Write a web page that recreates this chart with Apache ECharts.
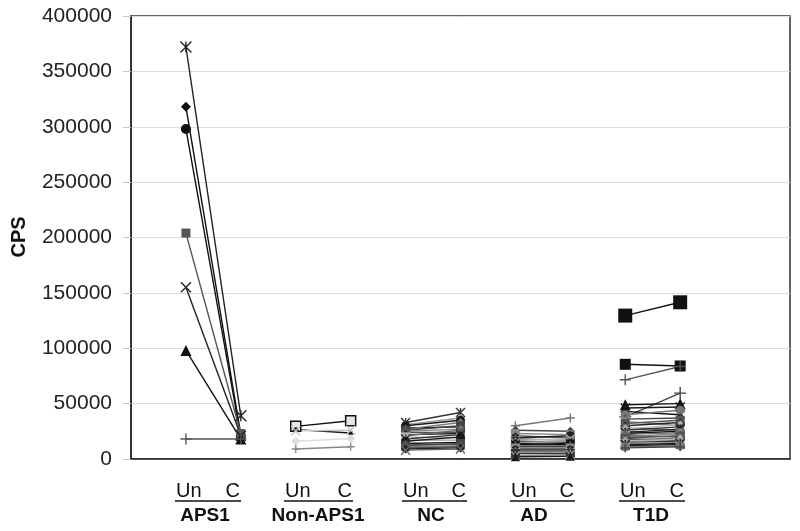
<!DOCTYPE html>
<html>
<head>
<meta charset="utf-8">
<script src="https://cdn.jsdelivr.net/npm/echarts@6/dist/echarts.min.js"></script>
<style>html,body{margin:0;padding:0;background:#fff}#c{width:800px;height:531px}</style>
</head>
<body>
<div id="c"></div>
<script>
// ---- data ----
const groupNames = ['APS1', 'Non-APS1', 'NC', 'AD', 'T1D'];
const pairLabels = ['Un', 'C'];
const yTicks = [0, 50000, 100000, 150000, 200000, 250000, 300000, 350000, 400000];

const aps1Un = [372000, 318000, 298000, 204000, 155000, 98000, 18000];
const aps1C  = [39000, 22000, 20000, 23000, 21000, 18000, 18000];

const nonUn = [29500, 26500, 25500, 16000, 9000];
const nonC  = [34500, 23500, 26000, 18500, 11000];

const ncUn = [33000, 31000, 30000, 28000, 27000, 26000, 25000, 24000, 22000, 21000, 20000, 18000, 17000, 16000, 14000, 13000, 12000, 11000, 10000, 9000, 8000];
const ncC  = [42000, 37000, 35000, 29000, 33000, 30000, 27000, 24000, 23000, 26000, 19000, 22000, 17000, 20000, 15000, 13000, 14000, 12000, 11000, 10000, 9000];

const adUn = [30000, 26000, 23000, 21000, 19000, 18000, 17000, 16000, 15000, 14000, 13000, 12000, 11000, 10000, 9000, 8000, 7000, 6000, 5000, 3000, 2000];
const adC  = [37000, 25000, 22000, 19000, 21000, 17000, 18000, 15000, 16000, 13000, 14000, 12000, 11000, 10000, 9000, 8000, 7000, 6000, 5000, 4000, 2500];

const t1dUn = [129500, 85500, 71500, 38000, 49000, 46000, 43000, 40000, 36000, 34000, 32000, 30000, 28000, 27000, 26000, 25000, 24000, 23000, 22000, 21000, 20000, 19000, 18000, 17000, 16000, 15000, 14000, 13000, 12000, 11000, 10000];
const t1dC  = [141500, 84000, 83500, 59500, 50000, 47000, 40000, 44000, 37000, 30000, 35000, 33000, 26000, 31000, 29000, 22000, 27000, 25000, 24000, 20000, 23000, 21000, 17000, 19000, 18000, 16000, 15000, 14000, 13000, 12000, 11000];

// ---- styles ----
const SYM = {
  rect: 'rect', triangle: 'triangle', circle: 'circle', diamond: 'diamond',
  cross: 'path://M0,0L10,10M0,10L10,0',
  plus: 'path://M5,0L5,10M0,5L10,5',
  star: 'path://M0,0L10,10M0,10L10,0M5,0L5,10'
};
const stroked = { cross: true, plus: true, star: true };

const aps1Styles = [
  { s: 'star', c: '#222', size: 11 }, { s: 'diamond', c: '#111', size: 10 }, { s: 'circle', c: '#111', size: 10 },
  { s: 'rect', c: '#555', size: 9 }, { s: 'cross', c: '#222', size: 10 }, { s: 'triangle', c: '#111', size: 11 },
  { s: 'plus', c: '#555', size: 11 }
];
const nonStyles = [
  { s: 'rect', c: '#111', fill: '#e6e6e6', size: 10 }, { s: 'circle', c: '#111', size: 5 },
  { s: 'cross', c: '#c8c8c8', size: 9 }, { s: 'diamond', c: '#dddddd', size: 9 }, { s: 'plus', c: '#888', size: 8 }
];
const t1dSpecial = [
  { s: 'rect', c: '#111', size: 14 }, { s: 'rect', c: '#111', size: 11 }, { s: 'plus', c: '#555', size: 11 },
  { s: 'plus', c: '#444', size: 12 }, { s: 'triangle', c: '#111', size: 11 }
];
const palette = ['#111111', '#555555', '#333333', '#777777', '#222222', '#999999', '#444444', '#666666', '#1a1a1a', '#888888', '#b5b5b5'];
const shapes = ['rect', 'triangle', 'circle', 'diamond', 'cross', 'rect', 'star', 'triangle', 'circle', 'plus', 'diamond'];

const series = [];
function addGroup(g, un, c, special) {
  for (let i = 0; i < un.length; i++) {
    const st = (special && special[i]) || { s: shapes[(i + g * 3) % shapes.length], c: palette[(i * 3 + g) % palette.length], size: 9 };
    const isStroke = stroked[st.s];
    series.push({
      type: 'line',
      data: [[2 * g + 1, un[i]], [2 * g + 2, c[i]]],
      symbol: SYM[st.s],
      symbolSize: st.size,
      clip: false,
      silent: true,
      animation: false,
      lineStyle: { color: st.c, width: 1.4 },
      itemStyle: isStroke
        ? { color: 'rgba(0,0,0,0)', borderColor: st.c, borderWidth: 1.4 }
        : { color: st.fill || st.c, borderColor: st.c, borderWidth: st.fill ? 1.5 : 0 }
    });
  }
}
addGroup(0, aps1Un, aps1C, aps1Styles);
addGroup(1, nonUn, nonC, nonStyles);
addGroup(2, ncUn, ncC, null);
addGroup(3, adUn, adC, null);
addGroup(4, t1dUn, t1dC, t1dSpecial);

// ---- bottom labels (layout) ----
const labelLayout = [
  { unX: 176, cX: 240, mid: 205 },
  { unX: 285, cX: 352, mid: 318 },
  { unX: 403, cX: 466, mid: 431 },
  { unX: 511, cX: 574, mid: 534 },
  { unX: 620, cX: 684, mid: 651 }
];
const FONT = '"Liberation Sans", Arial, sans-serif';
const graphics = [];
labelLayout.forEach((L, g) => {
  graphics.push({ type: 'text', left: L.unX, top: 481, style: { text: pairLabels[0], font: '20px ' + FONT, fill: '#111' } });
  graphics.push({ type: 'text', right: 800 - L.cX, top: 481, style: { text: pairLabels[1], font: '20px ' + FONT, fill: '#111' } });
  graphics.push({ type: 'line', shape: { x1: L.unX - 1, y1: 501, x2: L.cX + 1, y2: 501 }, style: { stroke: '#111', lineWidth: 1.5 } });
  graphics.push({ type: 'text', x: L.mid, y: 516, style: { text: groupNames[g], font: 'bold 19px ' + FONT, fill: '#111', align: 'center', verticalAlign: 'middle' } });
});
graphics.push({ type: 'text', x: 19, y: 237, rotation: Math.PI / 2, style: { text: 'CPS', font: 'bold 20px ' + FONT, fill: '#111', align: 'center', verticalAlign: 'middle' } });

const chart = echarts.init(document.getElementById('c'), null, { renderer: 'canvas' });
chart.setOption({
  animation: false,
  backgroundColor: '#fff',
  grid: { left: 131, right: 10, top: 16, bottom: 72, show: true, borderColor: '#333', borderWidth: 1.5, backgroundColor: 'transparent' },
  xAxis: {
    type: 'value', min: 0, max: 12,
    axisLine: { show: true, onZero: false, lineStyle: { color: '#222', width: 1.5 } },
    axisTick: { show: false }, axisLabel: { show: false }, splitLine: { show: false }
  },
  yAxis: {
    type: 'value', min: yTicks[0], max: yTicks[yTicks.length - 1], interval: yTicks[1] - yTicks[0],
    axisLine: { show: true, lineStyle: { color: '#222', width: 1.5 } },
    axisTick: { show: true, inside: false, length: 8, lineStyle: { color: '#c8c8c8' } },
    axisLabel: { margin: 19, fontSize: 21, fontFamily: FONT, color: '#222', formatter: v => String(v) },
    splitLine: { show: true, lineStyle: { color: '#dcdcdc', width: 1 } }
  },
  graphic: graphics,
  series: series
});
</script>
</body>
</html>
